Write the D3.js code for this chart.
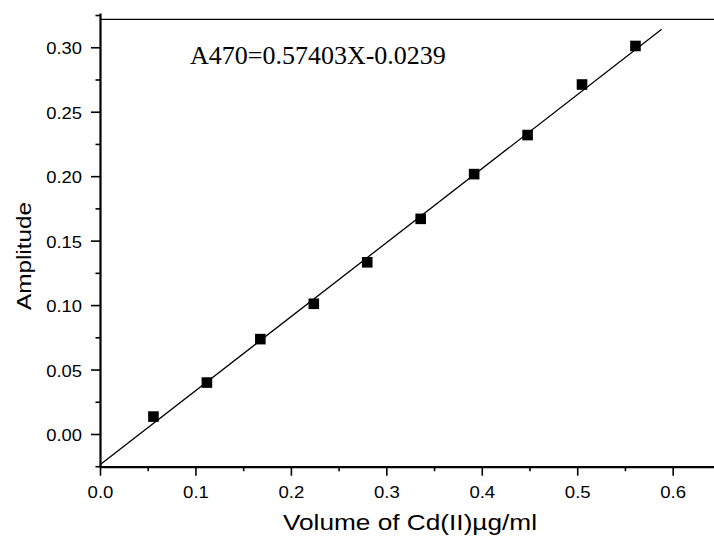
<!DOCTYPE html>
<html>
<head>
<meta charset="utf-8">
<script src="https://cdn.jsdelivr.net/npm/d3@7/dist/d3.min.js"></script>
<style>
  html, body { margin: 0; padding: 0; background: #fff; }
  svg { display: block; }
  .axis text { font-family: "Liberation Sans", Arial, sans-serif; font-size: 16.3px; fill: #000; }
  .axis path, .axis line { stroke: #000; }
</style>
</head>
<body>
<svg id="chart" width="714" height="543"></svg>
<script>
// Cd(II) calibration: concentration (µg/ml) vs measured amplitude
const concentration = [0.056, 0.112, 0.168, 0.224, 0.280, 0.336, 0.392, 0.448, 0.505, 0.561];
const amplitude     = [0.0135, 0.0399, 0.0736, 0.1010, 0.1332, 0.1669, 0.2016, 0.2319, 0.2711, 0.3010];

// Linear fit A470 = slope * X + intercept
const fitSlope = 0.57403;
const fitIntercept = -0.0239;
const fitRange = [0, 0.5885];

const xMajorTicks = [0.0, 0.1, 0.2, 0.3, 0.4, 0.5, 0.6];
const xMinorTicks = [0.05, 0.15, 0.25, 0.35, 0.45, 0.55];
const yMajorTicks = [0.00, 0.05, 0.10, 0.15, 0.20, 0.25, 0.30];
const yMinorTicks = [-0.025, 0.025, 0.075, 0.125, 0.175, 0.225, 0.275, 0.325];

const xDomain = [0, 0.6433];
const yDomain = [-0.02537, 0.3265];
const frameTop = 0.3216;

const equationLabel = "A470=0.57403X-0.0239";
const xTitle = "Volume of Cd(II)\u00b5g/ml";
const yTitle = "Amplitude";

const svg = d3.select("#chart");
const width = 714, height = 543;

const x = d3.scaleLinear().domain(xDomain).range([100, 714]);
const y = d3.scaleLinear().domain(yDomain).range([466.7, 13.1]);

// widen sans-serif labels to the proportions of the original output
function stretch(sel, factor) {
  sel.each(function () {
    const len = this.getComputedTextLength();
    d3.select(this).attr("textLength", len * factor).attr("lengthAdjust", "spacingAndGlyphs");
  });
}

// minor ticks
svg.append("g").attr("class", "axis")
  .attr("transform", `translate(0,${y(yDomain[0])})`)
  .call(d3.axisBottom(x).tickValues(xMinorTicks).tickSize(4.5).tickSizeOuter(0).tickFormat(""))
  .call(g => g.select(".domain").remove())
  .call(g => g.selectAll("line").attr("stroke-width", 1.6));

svg.append("g").attr("class", "axis")
  .attr("transform", `translate(${x(0)},0)`)
  .call(d3.axisLeft(y).tickValues(yMinorTicks).tickSize(4.5).tickSizeOuter(0).tickFormat(""))
  .call(g => g.select(".domain").remove())
  .call(g => g.selectAll("line").attr("stroke-width", 1.6));

// major ticks and labels
const xAxis = svg.append("g").attr("class", "axis")
  .attr("transform", `translate(0,${y(yDomain[0])})`)
  .call(d3.axisBottom(x).tickValues(xMajorTicks).tickSize(9).tickSizeOuter(0).tickPadding(11)
    .tickFormat(d3.format(".1f")));
xAxis.select(".domain").attr("stroke-width", 2.2);
xAxis.selectAll("line").attr("stroke-width", 1.6);
stretch(xAxis.selectAll("text"), 1.14);

const yAxis = svg.append("g").attr("class", "axis")
  .attr("transform", `translate(${x(0)},0)`)
  .call(d3.axisLeft(y).tickValues(yMajorTicks).tickSize(9).tickSizeOuter(0).tickPadding(9)
    .tickFormat(d3.format(".2f")));
yAxis.select(".domain").attr("stroke-width", 2.2);
yAxis.selectAll("line").attr("stroke-width", 1.6);
yAxis.selectAll("text").attr("dy", "0.4em");
stretch(yAxis.selectAll("text"), 1.13);

// top frame line
svg.append("line")
  .attr("x1", x(0)).attr("x2", x(xDomain[1]))
  .attr("y1", y(frameTop)).attr("y2", y(frameTop))
  .attr("stroke", "#000").attr("stroke-width", 1.2);

// fitted line
svg.append("line")
  .attr("x1", x(fitRange[0])).attr("y1", y(fitSlope * fitRange[0] + fitIntercept))
  .attr("x2", x(fitRange[1])).attr("y2", y(fitSlope * fitRange[1] + fitIntercept))
  .attr("stroke", "#000").attr("stroke-width", 1.3);

// data points
const marker = 10.6;
svg.append("g").selectAll("rect")
  .data(concentration.map((c, i) => ({ c, a: amplitude[i] })))
  .join("rect")
  .attr("x", d => x(d.c) - marker / 2)
  .attr("y", d => y(d.a) - marker / 2)
  .attr("width", marker).attr("height", marker)
  .attr("fill", "#000");

// regression equation
svg.append("text")
  .attr("x", 190).attr("y", 64)
  .attr("font-family", "'Liberation Serif', 'Times New Roman', serif")
  .attr("font-size", 26)
  .attr("fill", "#000")
  .text(equationLabel);

// axis titles
const xt = svg.append("text")
  .attr("x", 410).attr("y", 530)
  .attr("text-anchor", "middle")
  .attr("font-family", "'Liberation Sans', Arial, sans-serif")
  .attr("font-size", 22.3)
  .attr("fill", "#000")
  .text(xTitle);
xt.attr("textLength", 254).attr("lengthAdjust", "spacingAndGlyphs");

const yt = svg.append("text")
  .attr("transform", "translate(31,256) rotate(-90)")
  .attr("text-anchor", "middle")
  .attr("font-family", "'Liberation Sans', Arial, sans-serif")
  .attr("font-size", 21)
  .attr("fill", "#000")
  .text(yTitle);
yt.attr("textLength", 108).attr("lengthAdjust", "spacingAndGlyphs");
</script>
</body>
</html>
